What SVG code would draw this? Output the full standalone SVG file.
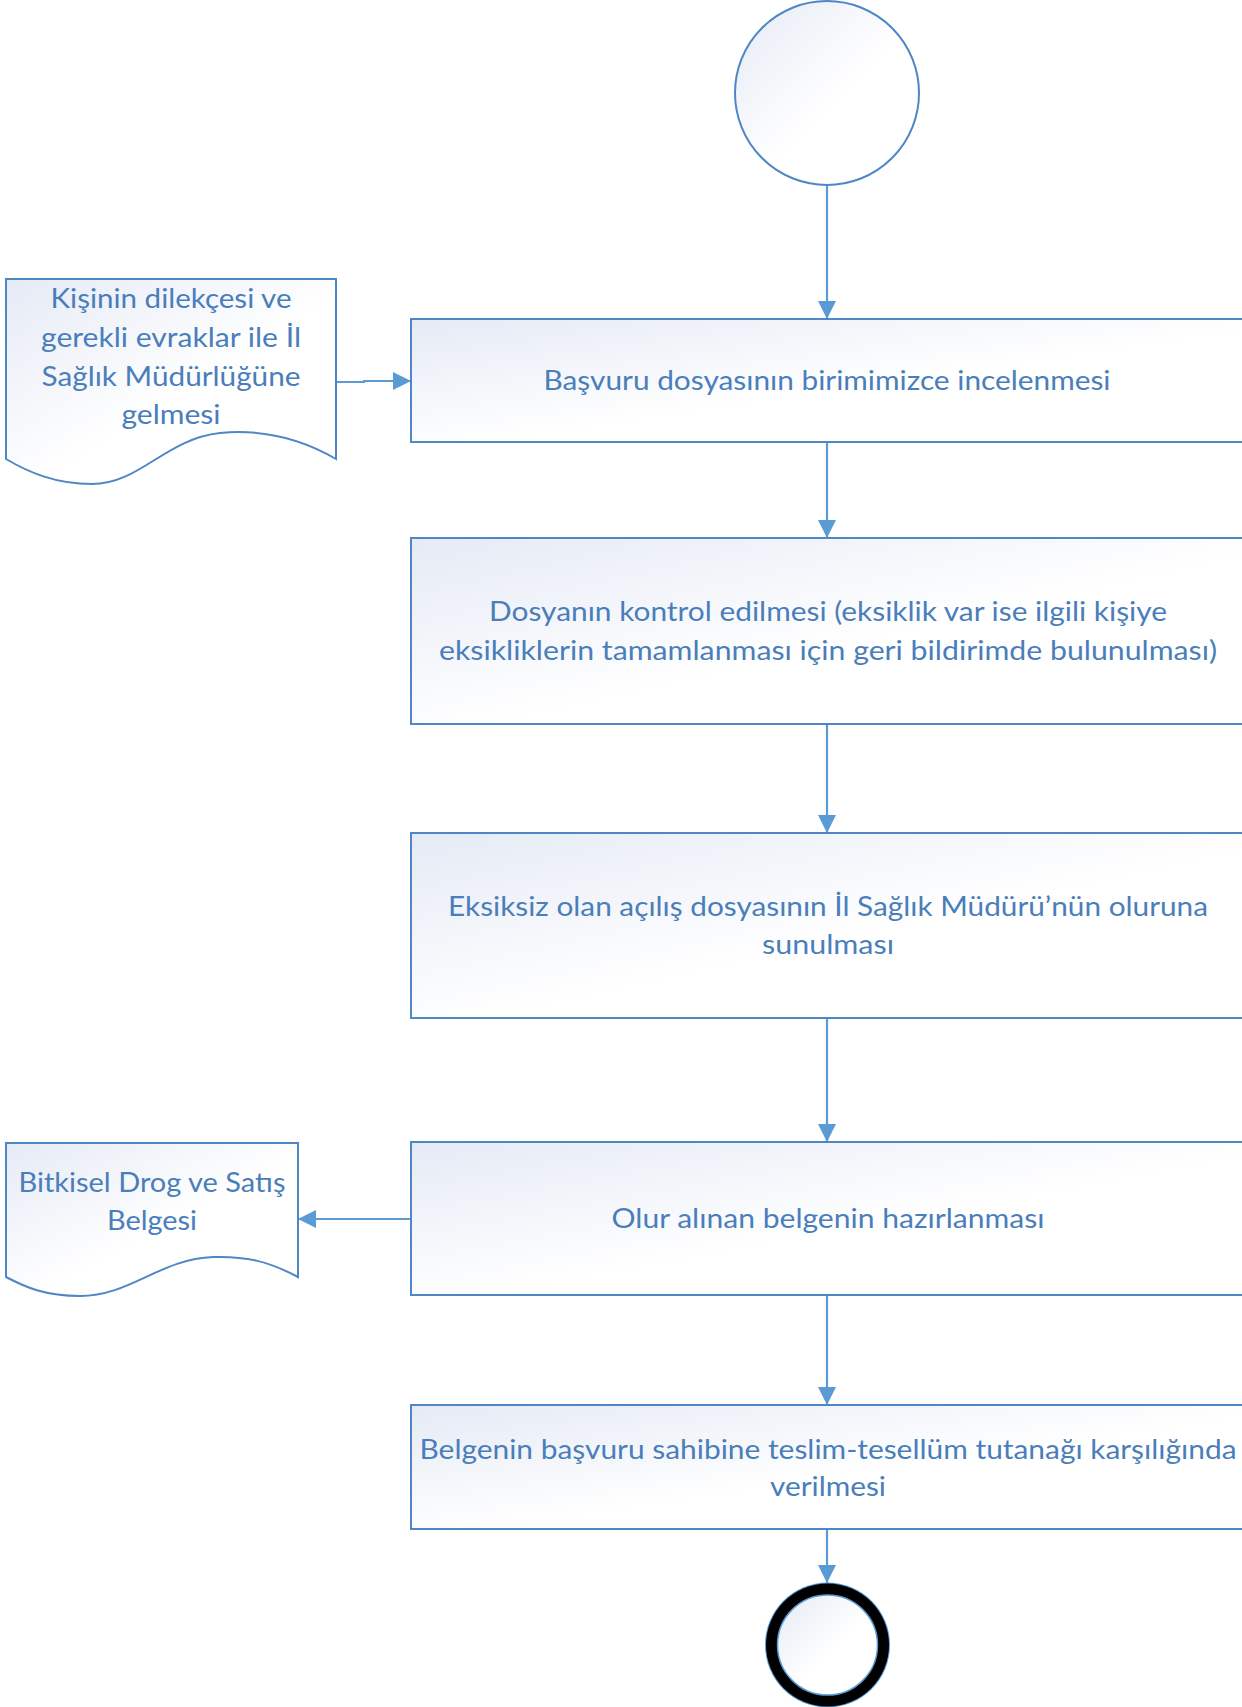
<svg xmlns="http://www.w3.org/2000/svg" width="1242" height="1707" viewBox="0 0 1242 1707">
  <defs>
    <linearGradient id="fillGrad" x1="0" y1="0" x2="1" y2="1">
      <stop offset="0" stop-color="#E5EAF5"/>
      <stop offset="0.55" stop-color="#FFFFFF"/>
      <stop offset="1" stop-color="#FFFFFF"/>
    </linearGradient>
    <marker id="arrow" viewBox="0 0 18 18" refX="18" refY="9" markerWidth="18" markerHeight="18" markerUnits="userSpaceOnUse" orient="auto">
      <path d="M0,0 L18,9 L0,18 Z" fill="#5B9BD5"/>
    </marker>
    <style>
      .shape { fill: url(#fillGrad); stroke: #4F86C6; stroke-width: 2; }
      .conn { fill: none; stroke: #5B9BD5; stroke-width: 2.2; marker-end: url(#arrow); }
      .lbl { font-family: Lato, "Liberation Sans", sans-serif; font-size: 27px; fill: #4A7EBB; text-anchor: middle; }
    </style>
  </defs>
  <rect width="1242" height="1707" fill="#FFFFFF"/>

  <g id="connectors">
    <path class="conn" d="M827,186 V319"/>
    <path class="conn" d="M336,382 H364 V381 H411"/>
    <path class="conn" d="M827,442 V538"/>
    <path class="conn" d="M827,724 V833"/>
    <path class="conn" d="M827,1018 V1142"/>
    <path class="conn" d="M411,1219 H298"/>
    <path class="conn" d="M827,1295 V1405"/>
    <path class="conn" d="M827,1529 V1583"/>
  </g>

  <g id="start">
    <circle class="shape" cx="827" cy="93" r="92"/>
  </g>

  <g id="doc-input">
    <path class="shape" d="M6,279 H336 V459 C300,438 262,429 220,433 C165,439 140,484 92,484 C55,484 28,472 6,459 Z"/>
    <text class="lbl" x="171" y="308" textLength="241" lengthAdjust="spacingAndGlyphs">Kişinin dilekçesi ve</text>
    <text class="lbl" x="171" y="347" textLength="260" lengthAdjust="spacingAndGlyphs">gerekli evraklar ile İl</text>
    <text class="lbl" x="171" y="386" textLength="259" lengthAdjust="spacingAndGlyphs">Sağlık Müdürlüğüne</text>
    <text class="lbl" x="171" y="424" textLength="99" lengthAdjust="spacingAndGlyphs">gelmesi</text>
  </g>

  <g id="step1">
    <rect class="shape" x="411" y="319" width="834" height="123"/>
    <text class="lbl" x="827" y="390" textLength="567" lengthAdjust="spacingAndGlyphs">Başvuru dosyasının birimimizce incelenmesi</text>
  </g>

  <g id="step2">
    <rect class="shape" x="411" y="538" width="834" height="186"/>
    <text class="lbl" x="828" y="621" textLength="678" lengthAdjust="spacingAndGlyphs">Dosyanın kontrol edilmesi (eksiklik var ise ilgili kişiye</text>
    <text class="lbl" x="828" y="660" textLength="778" lengthAdjust="spacingAndGlyphs">eksikliklerin tamamlanması için geri bildirimde bulunulması)</text>
  </g>

  <g id="step3">
    <rect class="shape" x="411" y="833" width="834" height="185"/>
    <text class="lbl" x="828" y="916" textLength="760" lengthAdjust="spacingAndGlyphs">Eksiksiz olan açılış dosyasının İl Sağlık Müdürü’nün oluruna</text>
    <text class="lbl" x="828" y="954" textLength="132" lengthAdjust="spacingAndGlyphs">sunulması</text>
  </g>

  <g id="step4">
    <rect class="shape" x="411" y="1142" width="834" height="153"/>
    <text class="lbl" x="828" y="1228" textLength="433" lengthAdjust="spacingAndGlyphs">Olur alınan belgenin hazırlanması</text>
  </g>

  <g id="doc-output">
    <path class="shape" d="M6,1143 H298 V1277 C268,1261 245,1256 213,1257 C160,1259 130,1296 80,1296 C45,1296 25,1287 6,1277 Z"/>
    <text class="lbl" x="152" y="1192" textLength="267" lengthAdjust="spacingAndGlyphs">Bitkisel Drog ve Satış</text>
    <text class="lbl" x="152" y="1230" textLength="90" lengthAdjust="spacingAndGlyphs">Belgesi</text>
  </g>

  <g id="step5">
    <rect class="shape" x="411" y="1405" width="834" height="124"/>
    <text class="lbl" x="828" y="1459" textLength="817" lengthAdjust="spacingAndGlyphs">Belgenin başvuru sahibine teslim-tesellüm tutanağı karşılığında</text>
    <text class="lbl" x="828" y="1496" textLength="116" lengthAdjust="spacingAndGlyphs">verilmesi</text>
  </g>

  <g id="end">
    <circle cx="827.5" cy="1645" r="62.5" fill="#5B9BD5"/>
    <circle cx="827.5" cy="1645" r="61.5" fill="#000000"/>
    <circle cx="827.5" cy="1645" r="50" fill="url(#fillGrad)" stroke="#5B9BD5" stroke-width="1.5"/>
  </g>
</svg>
